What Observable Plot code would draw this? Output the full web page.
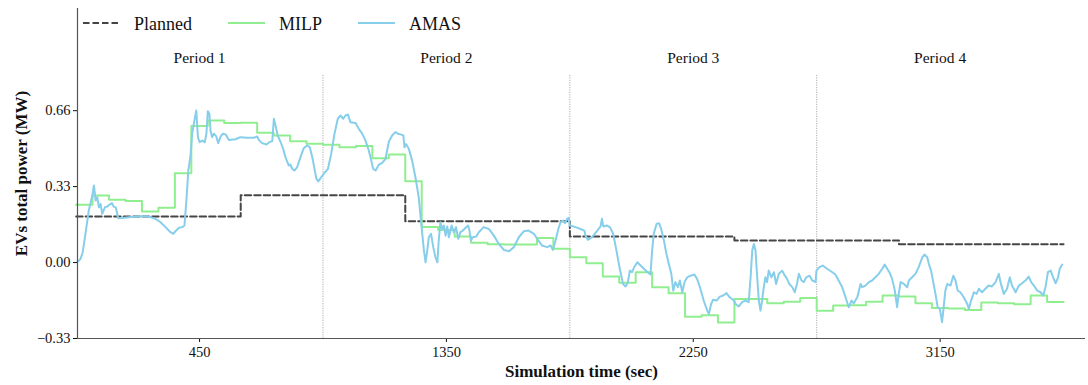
<!DOCTYPE html>
<html>
<head>
<meta charset="utf-8">
<script src="https://cdn.jsdelivr.net/npm/d3@7"></script>
<script src="https://cdn.jsdelivr.net/npm/@observablehq/plot@0.6"></script>
<style>
  body { margin: 0; background: #fff; }
  #wrap { position: relative; width: 1088px; height: 385px; font-family: "Liberation Serif", "Times New Roman", serif; }
  #legend { position: absolute; left: 0; top: 0; }
  #wrap svg, #wrap svg text { font-family: "Liberation Serif", "Times New Roman", serif !important; }
  g[aria-label="x-axis label"] text, g[aria-label="y-axis label"] text { font-weight: bold; font-size: 17px; }
  g[aria-label="x-axis tick label"] text, g[aria-label="y-axis tick label"] text { font-size: 14.5px; }
</style>
</head>
<body>
<div id="wrap"></div>
<script>
// ---------- data ----------
const xTicks = [450, 1350, 2250, 3150];
const yTicks = [-0.33, 0, 0.33, 0.66];
const periodBounds = [900, 1800, 2700];
const periodNames = ["Period 1", "Period 2", "Period 3", "Period 4"];
const periodMid = [450, 1350, 2250, 3150];

const plannedTime = [0, 600, 1200, 1800, 2400, 3000, 3600];
const plannedPower = [0.2, 0.293, 0.18, 0.113, 0.096, 0.08, 0.08];

// MILP: one value per 60 s step
const milpStep = 60;
const milpPower = [
  0.251, 0.291, 0.273, 0.267, 0.222, 0.238, 0.388, 0.593, 0.617, 0.606,
  0.607, 0.564, 0.552, 0.527, 0.516, 0.512, 0.501, 0.506, 0.453, 0.47,
  0.353, 0.154, 0.142, 0.113, 0.086, 0.08, 0.078, 0.078, 0.107, 0.06,
  0.023, -0.003, -0.061, -0.088, -0.042, -0.107, -0.133, -0.235, -0.229, -0.26,
  -0.158, -0.158, -0.177, -0.17, -0.154, -0.209, -0.187, -0.186, -0.17, -0.143,
  -0.147, -0.177, -0.197, -0.2, -0.206, -0.174, -0.177, -0.181, -0.143, -0.171
];

const amasTime = [
  4,16,24,34,46,59,65,71,77,83,89,95,105,113,122,131,137,144,150,153,168,192,217,241,265,289,308,326,344,354,
  362,375,387,395,402,409,417,423,429,438,444,450,460,469,475,480,486,490,496,502,511,518,527,535,545,557,581,
  599,624,648,660,666,678,694,703,715,721,727,735,745,755,763,775,781,788,796,806,818,830,842,852,861,869,876,883,891,
  903,918,930,942,954,964,974,982,991,1000,1019,1031,1043,1055,1067,1076,1083,1092,1104,1116,1128,1140,1152,1164,1173,1183,1193,1197,1203,
  1213,1225,1237,1249,1256,1262,1268,1274,1280,1286,1294,1302,1310,1317,1322,1328,1334,1341,1347,1353,1359,1369,1377,1385,1393,1401,1410,1420,1429,1434,1439,1446,1459,1468,1486,
  1505,1523,1541,1559,1578,1596,1614,1632,1650,1669,1685,1699,1717,1730,1738,1748,1758,1766,1775,1782,1790,1796,
  1800,1821,1839,1853,1857,1866,1881,1900,1912,1917,1922,1934,1946,1958,1970,1982,1994,2003,2011,2019,2027,2036,2046,2058,2070,2084,2094,
  2100,2106,2116,2125,2133,2143,2152,2161,2170,2177,2185,2194,2201,2210,2218,2228,2240,2254,2264,2276,2288,2301,2307,2315,2322,2335,2347,2359,2371,2383,2398,
  2404,2416,2428,2440,2452,2459,2465,2471,2477,2483,2489,2495,2501,2507,2513,2519,2525,2535,2544,2552,2562,2574,2584,2592,2600,2611,2620,2628,2635,2645,2653,2662,2674,2684,2696,
  2699,2710,2722,2738,2757,2768,2780,2793,2805,2817,2827,2835,2848,2860,2866,2878,2890,2902,2914,2926,2939,2948,2957,2965,2975,2985,2993,2999,
  3006,3018,3030,3036,3048,3060,3072,3085,3093,3103,3109,3117,3125,3133,3141,3149,3157,3163,3169,3176,3188,3198,3206,3214,3224,3236,3249,3255,3261,3273,3283,3291,
  3303,3315,3327,3339,3352,3364,3370,3382,3394,3404,3412,3425,3437,3449,3461,3473,3482,3492,3504,3516,3526,3534,3543,3553,3562,3571,3580,3586,3595
];
const amasPower = [
  0.001,0.016,0.045,0.125,0.226,0.291,0.335,0.27,0.284,0.24,0.255,0.212,0.24,0.243,0.252,0.258,0.243,0.24,0.212,0.193,0.194,0.197,0.2,0.201,0.2,0.19,0.175,0.154,0.132,0.125,
  0.136,0.151,0.154,0.161,0.27,0.4,0.465,0.56,0.603,0.661,0.545,0.523,0.53,0.523,0.56,0.658,0.646,0.574,0.545,0.56,0.548,0.519,0.548,0.56,0.557,0.533,0.536,
  0.545,0.542,0.542,0.548,0.533,0.519,0.513,0.522,0.528,0.625,0.596,0.552,0.525,0.494,0.458,0.422,0.426,0.407,0.4,0.415,0.458,0.497,0.509,0.501,0.458,0.407,0.364,0.353,0.367,
  0.386,0.407,0.473,0.56,0.625,0.639,0.625,0.639,0.643,0.61,0.606,0.58,0.56,0.53,0.487,0.443,0.407,0.4,0.426,0.433,0.451,0.525,0.552,0.567,0.56,0.557,0.552,0.501,0.515,
  0.494,0.443,0.371,0.284,0.197,0.125,0.052,0.001,0.052,0.11,0.125,0.067,0.023,0.001,0.096,0.175,0.146,0.161,0.117,0.157,0.11,0.161,0.132,0.154,0.103,0.132,0.139,0.151,0.161,0.139,0.096,0.11,0.113,0.132,0.154,
  0.146,0.117,0.081,0.055,0.049,0.067,0.11,0.136,0.139,0.125,0.096,0.074,0.067,0.074,0.055,0.096,0.146,0.175,0.183,0.171,0.19,0.194,
  0.161,0.154,0.146,0.139,0.117,0.099,0.11,0.139,0.157,0.19,0.157,0.161,0.154,0.125,0.052,-0.027,-0.093,-0.104,-0.088,-0.035,-0.042,-0.017,0.001,-0.013,-0.027,-0.042,-0.052,
  0.052,0.125,0.168,0.171,0.146,0.096,0.038,-0.006,-0.049,-0.122,-0.085,-0.107,-0.078,-0.129,-0.085,-0.064,-0.057,-0.052,-0.071,-0.114,-0.165,-0.209,-0.223,-0.18,-0.162,-0.165,-0.148,-0.143,-0.133,-0.151,-0.165,
  -0.18,-0.191,-0.172,-0.165,-0.172,-0.064,0.052,0.081,0.052,-0.064,-0.165,-0.209,-0.165,-0.107,-0.064,-0.085,-0.035,-0.064,-0.042,-0.093,-0.049,-0.035,-0.057,-0.071,-0.093,-0.107,-0.129,-0.093,-0.049,-0.078,-0.085,-0.064,-0.057,-0.078,-0.085,
  -0.035,-0.02,-0.013,-0.027,-0.042,-0.052,-0.078,-0.107,-0.151,-0.194,-0.165,-0.177,-0.151,-0.093,-0.107,-0.1,-0.085,-0.078,-0.064,-0.049,-0.027,-0.009,-0.027,-0.042,-0.071,-0.122,-0.194,-0.136,
  -0.085,-0.093,-0.107,-0.078,-0.064,-0.049,-0.02,0.023,0.035,0.023,-0.006,-0.035,-0.085,-0.136,-0.194,-0.201,-0.259,-0.194,-0.122,-0.093,-0.1,-0.057,-0.078,-0.122,-0.129,-0.151,-0.18,-0.201,-0.172,-0.129,-0.136,-0.114,
  -0.129,-0.114,-0.1,-0.104,-0.085,-0.049,-0.085,-0.136,-0.114,-0.064,-0.1,-0.129,-0.1,-0.09,-0.078,-0.061,-0.085,-0.1,-0.122,-0.129,-0.143,-0.107,-0.042,-0.035,-0.064,-0.09,-0.064,-0.027,-0.009
];

const xDomain = [5, 3680];
const yDomain = [-0.33, 1.104];

// ---------- tables ----------
const planned = plannedTime.map((t, i) => ({t, v: plannedPower[i]}));
const milp = milpPower.map((v, i) => ({t: i * milpStep, v}));
milp.push({t: milpPower.length * milpStep, v: milpPower[milpPower.length - 1]});
const amas = amasTime.map((t, i) => ({t, v: amasPower[i]}));
const periods = periodNames.map((name, i) => ({name, t: periodMid[i]}));

const serif = '"Liberation Serif", "Times New Roman", serif';

const chart = Plot.plot({
  width: 1088,
  height: 385,
  marginLeft: 77,
  marginRight: 3,
  marginTop: 8,
  marginBottom: 47,
  style: {fontFamily: serif, fontSize: "14px", background: "#fff", color: "#111"},
  x: {domain: xDomain},
  y: {domain: yDomain},
  marks: [
    Plot.ruleX(periodBounds, {stroke: "#9a9a9a", strokeWidth: 0.8, strokeDasharray: "1.2,1.2", insetTop: 67}),
    Plot.line(planned, {x: "t", y: "v", curve: "step-after", stroke: "#454545", strokeWidth: 2, strokeDasharray: "6.5,3"}),
    Plot.line(milp, {x: "t", y: "v", curve: "step-after", stroke: "#90ee90", strokeWidth: 2}),
    Plot.line(amas, {x: "t", y: "v", stroke: "#87ceeb", strokeWidth: 2}),
    Plot.text(periods, {x: "t", text: "name", frameAnchor: "top", dy: 43, fontSize: 15.5, fill: "#111", fontFamily: serif}),
    Plot.axisX({ticks: xTicks, tickFormat: d3.format("d"), tickSize: 4, tickPadding: 4, fontSize: 14.5, label: "Simulation time (sec)", labelAnchor: "center", labelOffset: 38, labelArrow: "none"}),
    Plot.axisY({ticks: yTicks, tickFormat: d3.format(".2f"), tickSize: 4, tickPadding: 3, fontSize: 14.5, label: "EVs total power (MW)", labelAnchor: "center", labelOffset: 63, labelArrow: "none"}),
    Plot.ruleX([xDomain[0]], {stroke: "#555", strokeWidth: 1.2}),
    Plot.ruleY([yDomain[0]], {stroke: "#555", strokeWidth: 1.2})
  ]
});

const wrap = document.getElementById("wrap");
wrap.appendChild(chart);

// legend overlay (inside the axes, top-left)
const legendItems = [
  {name: "Planned", color: "#454545", dash: "6.5,3"},
  {name: "MILP", color: "#90ee90", dash: null},
  {name: "AMAS", color: "#87ceeb", dash: null}
];
const legendX = [83, 228, 358];
const ns = "http://www.w3.org/2000/svg";
const leg = document.createElementNS(ns, "svg");
leg.setAttribute("id", "legend");
leg.setAttribute("width", 500);
leg.setAttribute("height", 40);
legendItems.forEach((d, i) => {
  const line = document.createElementNS(ns, "line");
  line.setAttribute("x1", legendX[i]);
  line.setAttribute("x2", legendX[i] + 37);
  line.setAttribute("y1", 23);
  line.setAttribute("y2", 23);
  line.setAttribute("stroke", d.color);
  line.setAttribute("stroke-width", 2);
  if (d.dash) line.setAttribute("stroke-dasharray", d.dash);
  leg.appendChild(line);
  const text = document.createElementNS(ns, "text");
  text.setAttribute("x", legendX[i] + 51);
  text.setAttribute("y", 29.5);
  text.setAttribute("font-size", 18);
  text.setAttribute("font-family", serif);
  text.setAttribute("fill", "#111");
  text.textContent = d.name;
  leg.appendChild(text);
});
wrap.appendChild(leg);
</script>
</body>
</html>
